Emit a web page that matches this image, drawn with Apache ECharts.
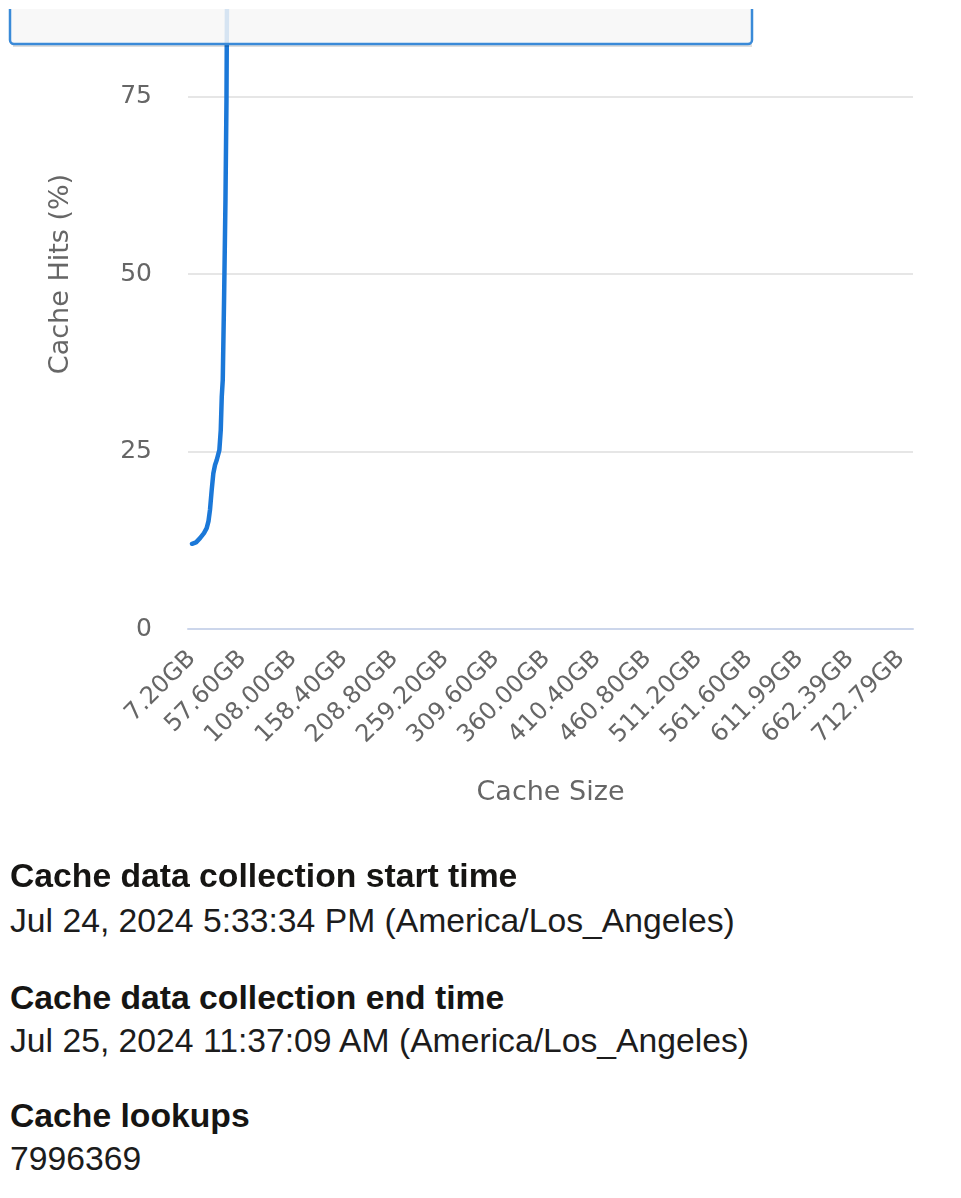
<!DOCTYPE html>
<html>
<head>
<meta charset="utf-8">
<script src="https://cdn.jsdelivr.net/npm/echarts@6/dist/echarts.min.js"></script>
<style>
html, body { margin: 0; padding: 0; background: #ffffff; }
#wrap { position: relative; width: 961px; height: 1198px; overflow: hidden; background: #fff; }
#chart { position: absolute; left: 0; top: 0; width: 961px; height: 860px; }
.t { position: absolute; left: 10px; font-family: "Liberation Sans", Arial, sans-serif; font-size: 33.7px; line-height: 34px; color: #1c1c1c; white-space: nowrap; }
.b { font-weight: bold; color: #161513; }
</style>
</head>
<body>
<div id="wrap">
  <div id="chart"></div>
  <div class="t b" style="top:858px">Cache data collection start time</div>
  <div class="t" style="top:903px">Jul 24, 2024 5:33:34 PM (America/Los_Angeles)</div>
  <div class="t b" style="top:980px">Cache data collection end time</div>
  <div class="t" style="top:1023px">Jul 25, 2024 11:37:09 AM (America/Los_Angeles)</div>
  <div class="t b" style="top:1098px">Cache lookups</div>
  <div class="t" style="top:1141px">7996369</div>
</div>
<script>
// Cache size (GB) and cache hits (%)
const cacheSizeGB = [7.2, 11.2, 15.2, 19.1, 21.8, 23.6, 25.1, 26.8, 28.4, 30.1, 31.8, 34.4, 35.8, 36.8, 37.8, 39.1, 40.5, 41.5, 42.0, 42.5, 43.2, 57.6, 108.0, 208.8, 309.6, 410.4, 511.2, 611.99, 720.0];
const cacheHitsPct = [12.0, 12.2, 12.8, 13.5, 14.2, 15.2, 16.8, 19.6, 21.9, 23.1, 23.8, 25.2, 28.0, 32.7, 35.1, 46.4, 60.5, 74.5, 88.6, 95.7, 97.0, 98.5, 99.0, 99.4, 99.6, 99.7, 99.8, 99.8, 99.9];

// Axis tick labels
const xTickLabels = ['7.20GB', '57.60GB', '108.00GB', '158.40GB', '208.80GB', '259.20GB', '309.60GB', '360.00GB', '410.40GB', '460.80GB', '511.20GB', '561.60GB', '611.99GB', '662.39GB', '712.79GB'];
const yTickLabels = ['0', '25', '50', '75', '100'];

const xTickValues = xTickLabels.map(s => parseFloat(s));
const seriesData = cacheSizeGB.map((x, i) => [x, cacheHitsPct[i]]);

const chart = echarts.init(document.getElementById('chart'), null, { renderer: 'canvas' });
const labelFont = 'DejaVu Sans';

chart.setOption({
  animation: false,
  backgroundColor: '#ffffff',
  grid: {
    left: 188, right: 48, top: -81, height: 710,
    containLabel: false,
    outerBoundsMode: 'none'
  },
  xAxis: {
    type: 'value',
    min: 3.2,
    max: 724.8,
    name: 'Cache Size',
    nameLocation: 'middle',
    nameGap: 150,
    nameTextStyle: { fontFamily: labelFont, fontSize: 27, color: '#666666' },
    axisLine: { show: true, lineStyle: { color: '#ccd6eb', width: 2 } },
    axisTick: { show: false },
    splitLine: { show: false },
    axisLabel: {
      customValues: xTickValues,
      rotate: 45,
      margin: 26,
      fontFamily: labelFont,
      fontSize: 24,
      color: '#666666',
      formatter: function (v) {
        const i = xTickValues.findIndex(t => Math.abs(t - v) < 1e-6);
        return i >= 0 ? xTickLabels[i] : '';
      }
    }
  },
  yAxis: {
    type: 'value',
    min: 0,
    max: 100,
    interval: 25,
    name: 'Cache Hits (%)',
    nameLocation: 'middle',
    nameGap: 114,
    nameTextStyle: { fontFamily: labelFont, fontSize: 27, color: '#666666' },
    axisLine: { show: false },
    axisTick: { show: false },
    splitLine: { show: true, lineStyle: { color: '#e6e6e6', width: 2 } },
    axisLabel: {
      margin: 36,
      fontFamily: labelFont,
      fontSize: 25,
      color: '#666666',
      formatter: function (v) { return yTickLabels[Math.round(v / 25)]; }
    }
  },
  series: [{
    type: 'line',
    data: seriesData,
    showSymbol: false,
    smooth: false,
    lineStyle: { color: '#1b78d8', width: 4.5, cap: 'round', join: 'round' },
    itemStyle: { color: '#1b78d8' },
    z: 3
  }],
  graphic: [
    {
      type: 'rect',
      z: 99,
      shape: { x: 13, y: 44, width: 739, height: 3 },
      style: { fill: 'rgba(0,0,0,0.13)' }
    },
    {
      type: 'rect',
      z: 100,
      shape: { x: 10, y: -40, width: 742, height: 84, r: 4 },
      style: {
        fill: 'rgba(247,247,247,0.85)',
        stroke: '#3a8ad8',
        lineWidth: 2.5
      }
    },
    {
      type: 'rect',
      z: 101,
      shape: { x: 0, y: 0, width: 961, height: 9 },
      style: { fill: '#ffffff' }
    }
  ]
});
</script>
</body>
</html>
